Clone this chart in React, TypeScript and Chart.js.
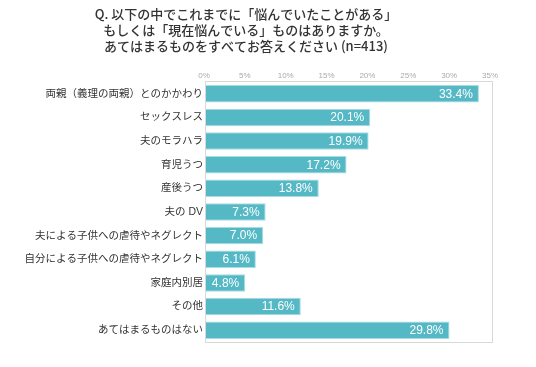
import React, { useEffect, useRef } from "react";
import { Chart, registerables } from "chart.js";

Chart.register(...registerables);

const titleLines = [
  "Q. 以下の中でこれまでに「悩んでいたことがある」",
  "もしくは「現在悩んでいる」ものはありますか。",
  "あてはまるものをすべてお答えください (n=413)",
];
const categories = [
  "両親（義理の両親）とのかかわり",
  "セックスレス",
  "夫のモラハラ",
  "育児うつ",
  "産後うつ",
  "夫の DV",
  "夫による子供への虐待やネグレクト",
  "自分による子供への虐待やネグレクト",
  "家庭内別居",
  "その他",
  "あてはまるものはない",
];
const values = [33.4, 20.1, 19.9, 17.2, 13.8, 7.3, 7.0, 6.1, 4.8, 11.6, 29.8];
const xMax = 35;
const xStep = 5;

const FONT = "'Helvetica Neue', Arial, 'Liberation Sans', 'Noto Sans CJK JP', sans-serif";
const TITLE_FONT = "'Noto Sans CJK JP', 'Noto Sans', sans-serif";

const valueLabels = {
  id: "valueLabels",
  afterDatasetsDraw(chart: any) {
    const ctx = chart.ctx;
    const meta = chart.getDatasetMeta(0);
    ctx.save();
    ctx.fillStyle = "#ffffff";
    ctx.font = `12px ${FONT}`;
    ctx.textAlign = "right";
    ctx.textBaseline = "middle";
    meta.data.forEach((bar: any, i: number) => {
      ctx.fillText(values[i].toFixed(1) + "%", bar.x - 6, bar.y + 0.5);
    });
    ctx.restore();
  },
};

const frame = {
  id: "frame",
  afterDraw(chart: any) {
    const { ctx, chartArea } = chart;
    ctx.save();
    ctx.strokeStyle = "#d9d9d9";
    ctx.lineWidth = 1;
    ctx.strokeRect(
      Math.round(chartArea.left) - 0.5,
      Math.round(chartArea.top) - 0.5,
      Math.round(chartArea.right - chartArea.left) + 1,
      Math.round(chartArea.bottom - chartArea.top) + 1
    );
    ctx.restore();
  },
};

export default function App() {
  const ref = useRef<HTMLCanvasElement>(null);
  useEffect(() => {
    if (!ref.current) return;
    const chart = new Chart(ref.current, {
      type: "bar",
      data: {
        labels: categories,
        datasets: [
          {
            data: values,
            backgroundColor: "#55b8c5",
            borderColor: "#a9dce3",
            borderWidth: 1,
            barPercentage: 0.74,
            categoryPercentage: 1,
          },
        ],
      },
      options: {
        indexAxis: "y",
        responsive: false,
        animation: false,
        layout: { padding: { left: 0, right: 10, top: 0, bottom: 25 } },
        plugins: {
          legend: { display: false },
          tooltip: { enabled: false },
          title: {
            display: true,
            text: titleLines,
            color: "#333333",
            font: { size: 13, family: TITLE_FONT, weight: "500", lineHeight: 1.23 },
            padding: { top: 6, bottom: 0 },
          },
        },
        scales: {
          x: {
            position: "top",
            min: 0,
            max: xMax,
            grid: { display: false, drawTicks: false },
            border: { display: false },
            ticks: {
              stepSize: xStep,
              padding: 1,
              labelOffset: -2,
              color: "#aaaaaa",
              font: { size: 8, family: FONT },
              callback: (v: any) => v + "%",
            },
            afterFit(scale: any) {
              scale.height = 28;
            },
          },
          y: {
            grid: { display: false, drawTicks: false },
            border: { display: false },
            ticks: {
              padding: 3,
              color: "#333333",
              font: { size: 10.5, family: FONT },
            },
            afterFit(scale: any) {
              scale.width = 206;
            },
          },
        },
      },
      plugins: [valueLabels, frame],
    });
    return () => chart.destroy();
  }, []);
  return (
    <div style={{ position: "fixed", left: 0, top: 0, width: 536, height: 367, background: "#fff" }}>
      <canvas ref={ref} width={502} height={367} style={{ width: 502, height: 367 }} />
    </div>
  );
}
